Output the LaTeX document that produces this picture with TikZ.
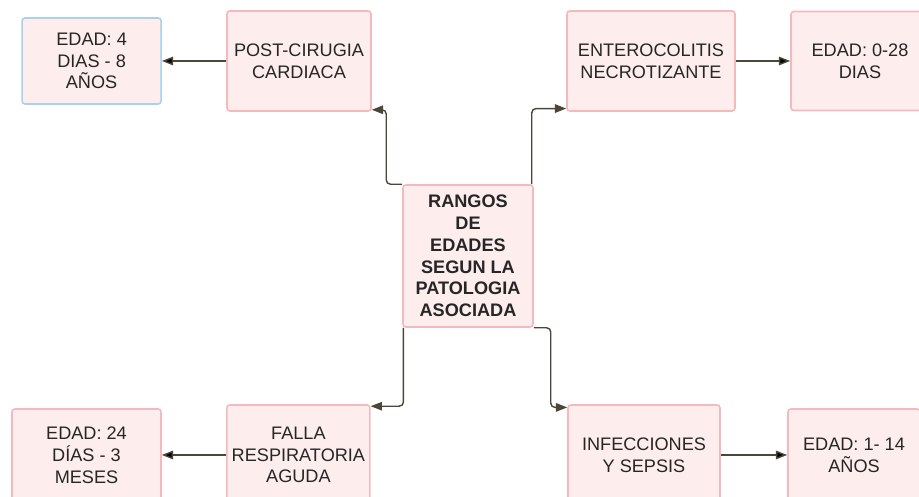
\documentclass[tikz,border=0pt]{standalone}
\usepackage{fontspec}
\setmainfont{Liberation Sans}
\usetikzlibrary{arrows.meta}
\definecolor{boxfill}{HTML}{FDEDED}
\definecolor{boxline}{HTML}{F5B8BF}
\definecolor{blueline}{HTML}{A9D1EE}
\definecolor{arcol}{HTML}{4B4637}
\begin{document}
\begin{tikzpicture}[
        every node/.style={draw=boxline, fill=boxfill, line width=1.1pt, rounded corners=2pt,
            align=center, text=black!85, font=\fontsize{12.9}{15.5}\selectfont},
        box/.style={minimum width=3.6cm, minimum height=2.5cm},
        agebox/.style={minimum width=3.45cm, minimum height=2.3cm},
        mainbox/.style={minimum width=3.25cm, minimum height=3.55cm, font=\fontsize{12.9}{15.5}\selectfont\bfseries},
        ar/.style={-{Triangle[length=8pt, width=6pt]}, line width=1pt, draw=arcol},
    ]
    \useasboundingbox (0,0) rectangle (22.975,12.425);
    \clip (0,0) rectangle (22.975,12.425);

    \node[mainbox](rangos) at (11.7,6.025) {RANGOS\\DE\\EDADES\\SEGUN LA\\PATOLOGIA\\ASOCIADA};

    \node[box](postc) at (7.475,10.9) {POST-CIRUGIA\\CARDIACA};
    \node[box, minimum width=4.2cm](entero) at (16.275,10.9) {ENTEROCOLITIS\\NECROTIZANTE};
    \node[box, minimum width=3.575cm](falla) at (7.46,1.05) {FALLA\\RESPIRATORIA\\AGUDA};
    \node[box, minimum width=3.8cm](infec) at (16.1,1.05) {INFECCIONES\\Y SEPSIS};

    \node[agebox, draw=blueline, minimum width=3.475cm, minimum height=2.15cm](edadA) at (2.29,10.9) {EDAD: 4\\DIAS - 8\\AÑOS};
    \node[agebox, minimum height=2.475cm](edadB) at (21.5,10.9) {EDAD: 0-28\\DIAS};
    \node[agebox, minimum width=3.725cm](edadC) at (2.1625,1.05) {EDAD: 24\\DÍAS - 3\\MESES};
    \node[agebox, minimum width=3.3cm](edadD) at (21.35,1.05) {EDAD: 1- 14\\AÑOS};

    \path[ar]
    (postc) edge (edadA)
    (entero) edge (edadB)
    (falla) edge (edadC)
    (infec) edge (edadD)
    ;
    \draw[ar, rounded corners=3pt] (rangos.north west) -- ++(-0.4,0) |- ([yshift=0.05cm]postc.south east);
    \draw[ar, rounded corners=3pt] ([xshift=-0.05cm]rangos.north east) |- ([yshift=0.08cm]entero.south west);
    \draw[ar, rounded corners=3pt] ([xshift=0.03cm]rangos.south west) |- ([yshift=-0.05cm]falla.north east);
    \draw[ar, rounded corners=3pt] (rangos.south east) -- ++(0.425,0) |- ([yshift=-0.08cm]infec.north west);
\end{tikzpicture}
\end{document}
